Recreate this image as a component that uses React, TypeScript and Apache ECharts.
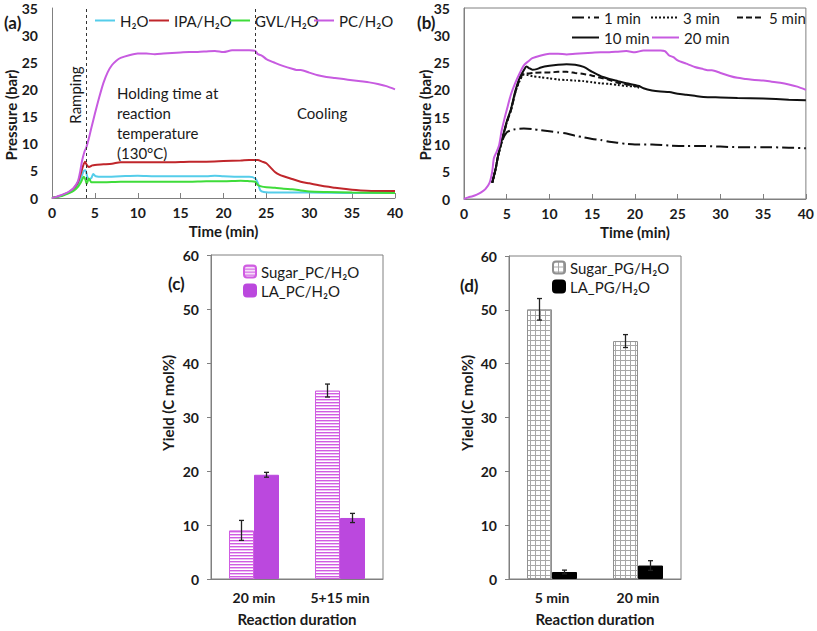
import React, { useEffect, useRef } from 'react';
import * as echarts from 'echarts';

// ---------------- DATA ----------------
// Panel (a): pressure (bar) vs time (min) for different solvents
const h2oA: number[][] = [[0,0],[0.5,0.2],[1,0.4],[1.5,0.7],[2,1.0],[2.5,1.5],[3,2.4],[3.4,3.8],[3.7,5.0],[3.9,5.1],[4.1,4.0],[4.3,3.4],[4.6,3.7],[4.8,4.4],[5.1,4.0],[6,3.9],[8,4.0],[10,4.1],[12,4.0],[14,4.0],[16,4.0],[18,4.0],[19,4.1],[20,4.0],[22,3.9],[23,3.9],[23.7,3.6],[24,2.8],[24.3,1.4],[24.7,1.1],[26,1.0],[30,1.0],[35,0.9],[40,0.9]];
const ipaA: number[][] = [[0,0],[0.5,0.2],[1,0.4],[1.5,0.7],[2,1.1],[2.5,1.7],[3,2.8],[3.3,4.2],[3.6,5.8],[3.85,6.7],[4.05,6.1],[4.3,5.7],[4.7,6.0],[5,6.1],[6,6.2],[7,6.3],[8,6.6],[9,6.6],[10,6.6],[12,6.6],[14,6.6],[16,6.7],[18,6.7],[20,6.8],[22,6.9],[23,7.0],[24,7.0],[24.5,6.7],[25,6.4],[25.5,5.6],[26,4.8],[26.5,4.3],[27,4.0],[28,3.5],[29,3.0],[30,2.7],[31,2.4],[32,2.1],[33,1.9],[34,1.7],[35,1.5],[36,1.4],[38,1.3],[40,1.3]];
const gvlA: number[][] = [[0,0],[0.5,0.15],[1,0.3],[1.5,0.6],[2,0.9],[2.5,1.3],[3,2.0],[3.4,3.0],[3.7,3.9],[3.9,3.4],[4.05,2.6],[4.3,3.6],[4.6,2.9],[5,2.9],[6,2.9],[8,3.0],[10,3.0],[12,3.0],[14,3.0],[16,3.0],[18,3.1],[20,3.1],[22,3.2],[23,3.1],[23.7,3.0],[24,2.4],[24.5,2.1],[25,2.0],[26,1.9],[27,1.7],[28,1.6],[29,1.4],[30,1.2],[32,1.1],[35,1.0],[40,0.9]];
const pcA: number[][] = [[0,0],[0.5,0.2],[1,0.5],[1.5,0.8],[2,1.2],[2.5,1.8],[3,3.0],[3.3,5.0],[3.5,6.8],[3.8,8.6],[4,9.3],[4.3,11.0],[4.6,13.0],[5,15.5],[5.5,18.5],[6,21.2],[6.5,23.2],[7,24.5],[7.5,25.3],[8,25.8],[9,26.3],[10,26.6],[11,26.6],[12,26.5],[13,26.6],[14,26.7],[15,26.8],[16,26.9],[17,26.9],[18,27.0],[19,27.1],[20,26.9],[21,27.2],[22,27.2],[23,27.2],[23.7,27.1],[24,26.5],[24.5,26.2],[25,25.6],[26,24.9],[27,24.3],[28,23.8],[28.5,23.6],[29,23.6],[30,23.1],[31,22.6],[32,22.3],[33,22.1],[34,21.9],[35,21.7],[36,21.5],[37,21.3],[38,21.0],[39,20.6],[40,20.0]];
const phaseBoundaries = [4, 23.7];

// Panel (b): pressure vs time for different holding times
const min1B: number[][] = [[3.3,3.0],[3.7,5.5],[4,8.0],[4.5,10.8],[5,12.2],[5.5,12.6],[6,12.8],[7,12.9],[8,12.8],[9,12.6],[10,12.4],[11,12.2],[12,12.0],[13,11.6],[14,11.3],[15,11.0],[16,10.8],[17,10.5],[18,10.3],[19,10.1],[20,10.0],[22,10.0],[24,9.8],[26,9.7],[28,9.7],[30,9.6],[32,9.5],[35,9.5],[38,9.4],[40,9.3]];
const min3B: number[][] = [[3.3,3.0],[3.7,5.5],[4,8.0],[4.5,11.0],[5,14.0],[5.5,16.3],[6,19.5],[6.5,21.6],[7,22.8],[7.5,22.7],[8,22.5],[9,22.3],[10,22.1],[11,21.9],[12,21.8],[13,21.7],[14,21.6],[15,21.4],[16,21.2],[17,21.1],[18,20.9],[19,20.7],[20,20.6],[20.5,20.4]];
const min5B: number[][] = [[3.3,3.0],[3.7,5.5],[4,8.0],[4.5,11.0],[5,14.0],[5.5,16.3],[6,19.5],[6.5,21.8],[7,23.0],[7.5,23.0],[8,23.1],[9,23.2],[10,23.2],[11,23.3],[12,23.3],[13,23.1],[14,22.9],[15,22.6],[16,22.2],[17,21.8],[18,21.3],[19,21.0],[20,20.7],[20.5,20.5]];
const min10B: number[][] = [[3.3,3.0],[3.7,5.5],[4,8.0],[4.5,11.2],[5,14.2],[5.5,16.5],[6,19.8],[6.5,22.2],[7,23.6],[7.3,24.3],[7.6,24.0],[8,23.7],[8.5,23.8],[9,24.1],[10,24.4],[11,24.6],[12,24.7],[13,24.6],[14,24.2],[15,23.3],[16,22.5],[17,22.0],[18,21.6],[19,21.2],[20,20.9],[20.5,20.7],[21,20.3],[22,19.9],[23,19.7],[24,19.6],[25,19.3],[26,19.1],[27,18.9],[28,18.7],[30,18.6],[32,18.5],[35,18.4],[38,18.2],[40,18.1]];
const min20B: number[][] = [[0,0],[0.5,0.3],[1,0.5],[1.5,0.8],[2,1.2],[2.5,1.8],[3,3.0],[3.3,5.0],[3.5,7.5],[3.8,8.6],[4.1,9.8],[4.4,12.5],[4.7,14.5],[5,16.3],[5.5,19.2],[6,21.3],[6.5,23.0],[7,24.5],[7.5,25.2],[8,25.8],[9,26.3],[10,26.6],[11,26.6],[12,26.5],[13,26.6],[14,26.7],[15,26.8],[16,26.9],[17,26.9],[18,27.0],[19,27.1],[20,26.9],[21,27.2],[22,27.2],[23,27.2],[23.5,27.1],[24,26.3],[24.5,26.0],[25,25.4],[26,24.8],[27,24.2],[28,23.8],[28.5,23.6],[29,23.6],[30,23.1],[31,22.6],[32,22.2],[33,22.0],[34,21.8],[35,21.7],[36,21.5],[37,21.3],[38,21.0],[39,20.6],[40,20.0]];

// Panel (c): yields, PC/H2O
const pcCategories = ['20 min', '5+15 min'];
const sugarPC = [9.0, 34.9];
const sugarPCErr = [1.85, 1.2];
const laPC = [19.3, 11.3];
const laPCErr = [0.45, 0.85];

// Panel (d): yields, PG/H2O
const pgCategories = ['5 min', '20 min'];
const sugarPG = [50.1, 44.2];
const sugarPGErr = [2.0, 1.2];
const laPG = [1.3, 2.5];
const laPGErr = [0.35, 0.9];

// ---------------- STYLE ----------------
const FONT = 'Lato, "Open Sans", sans-serif';
const TXT = '#1a1a1a';
const AXIS = '#808080';
const C_H2O = '#55cdea';
const C_IPA = '#c0262b';
const C_GVL = '#3fdc3a';
const C_PC = '#c75be0';
const C_LA_PC = '#bb48de';
const C_STRIPE = '#d05ce2';
const BAR_W = 25;

const svgUri = (s: string) => 'data:image/svg+xml;charset=utf-8,' + encodeURIComponent(s);
const stripePattern = {
  image: svgUri(`<svg xmlns='http://www.w3.org/2000/svg' width='4' height='3'><rect width='4' height='3' fill='#ffffff'/><rect width='4' height='1.4' fill='${C_STRIPE}'/></svg>`),
  repeat: 'repeat',
  imageWidth: 4,
  imageHeight: 3,
};
const gridPattern = {
  image: svgUri(`<svg xmlns='http://www.w3.org/2000/svg' width='5' height='5'><rect width='5' height='5' fill='#ffffff'/><rect width='5' height='1' fill='#a8a8a8'/><rect width='1' height='5' fill='#a8a8a8'/></svg>`),
  repeat: 'repeat',
  imageWidth: 5,
  imageHeight: 5,
};

const tickLabel = (margin: number) => ({ fontFamily: FONT, fontSize: 14, fontWeight: 'bold', color: TXT, margin });

function valueX(grid: number, showName: boolean) {
  return {
    type: 'value', gridIndex: grid, min: 0, max: 40, interval: 5,
    name: showName ? 'Time (min)' : '', nameLocation: 'middle', nameGap: 25,
    nameTextStyle: { fontFamily: FONT, fontSize: 15, fontWeight: 'bold', color: TXT },
    axisLine: { show: true, lineStyle: { color: AXIS, width: 1 } },
    axisTick: { show: true, inside: true, length: 5, lineStyle: { color: AXIS } },
    axisLabel: tickLabel(7),
    splitLine: { show: false },
  };
}
function pressureY(grid: number) {
  return {
    type: 'value', gridIndex: grid, min: 0, max: 35, interval: 5,
    axisLine: { show: true, lineStyle: { color: AXIS, width: 1 } },
    axisTick: { show: false },
    axisLabel: tickLabel(14),
    splitLine: { show: false },
  };
}
function catX(grid: number, cats: string[]) {
  return {
    type: 'category', gridIndex: grid, data: cats,
    name: 'Reaction duration', nameLocation: 'middle', nameGap: 32,
    nameTextStyle: { fontFamily: FONT, fontSize: 15, fontWeight: 'bold', color: TXT },
    axisLine: { show: true, lineStyle: { color: AXIS } },
    axisTick: { show: false },
    axisLabel: tickLabel(11),
  };
}
function yieldY(grid: number) {
  return {
    type: 'value', gridIndex: grid, min: 0, max: 60, interval: 10,
    axisLine: { show: true, lineStyle: { color: AXIS } },
    axisTick: { show: true, length: 4, lineStyle: { color: AXIS } },
    axisLabel: tickLabel(12),
    splitLine: { show: false },
  };
}

function lineSeries(name: string, data: number[][], grid: number, color: string, type: any = 'solid', extra: any = {}) {
  return {
    type: 'line', name, data, xAxisIndex: grid, yAxisIndex: grid,
    symbol: 'none', smooth: 0.25,
    lineStyle: { color, width: 2, type },
    itemStyle: { color },
    z: 3,
    ...extra,
  };
}

const errorBarRender = (offset: number) => (params: any, api: any) => {
  const i = api.value(0);
  const lo = api.coord([i, api.value(1)]);
  const hi = api.coord([i, api.value(2)]);
  const x = lo[0] + offset;
  const cap = 2.5;
  const style = { stroke: '#222', lineWidth: 1.3 };
  return {
    type: 'group',
    children: [
      { type: 'line', shape: { x1: x, y1: hi[1], x2: x, y2: lo[1] }, style },
      { type: 'line', shape: { x1: x - cap, y1: hi[1], x2: x + cap, y2: hi[1] }, style },
      { type: 'line', shape: { x1: x - cap, y1: lo[1], x2: x + cap, y2: lo[1] }, style },
    ],
  };
};
function errorSeries(vals: number[], errs: number[], grid: number, offset: number) {
  return {
    type: 'custom', xAxisIndex: grid, yAxisIndex: grid, z: 10, silent: true,
    encode: { x: 0, y: [1, 2] },
    data: vals.map((v, i) => [i, v - errs[i], v + errs[i]]),
    renderItem: errorBarRender(offset),
  };
}

const legendText = { fontFamily: FONT, fontSize: 15, color: TXT };
function legendAt(name: string, left: number, top: number, w: number, h: number, isLine: boolean) {
  const l: any = {
    data: [name], left, top, padding: 0, itemWidth: w, itemHeight: h, itemGap: 0,
    selectedMode: false, textStyle: legendText,
  };
  if (isLine) l.itemStyle = { opacity: 0, borderWidth: 0 };
  return l;
}

function rotText(text: string, x: number, y: number, bold = true) {
  return {
    type: 'text', x, y, rotation: Math.PI / 2,
    style: { text, fontFamily: FONT, fontSize: 15, fontWeight: bold ? 'bold' : 'normal', fill: TXT, align: 'center', verticalAlign: 'middle' },
  };
}
function panelLabel(text: string, x: number, y: number) {
  return {
    type: 'text', x, y,
    style: { text, fontFamily: FONT, fontSize: 17, fontWeight: 'bold', fill: TXT, align: 'left', verticalAlign: 'middle' },
  };
}

const option: any = {
  animation: false,
  backgroundColor: '#ffffff',
  textStyle: { fontFamily: FONT },
  grid: [
    { left: 52, top: 8, width: 343, height: 190 },
    { left: 464, top: 8, width: 344, height: 191, show: true, borderColor: AXIS, borderWidth: 1, backgroundColor: 'transparent' },
    { left: 211, top: 255, width: 172, height: 326, show: true, borderColor: AXIS, borderWidth: 1, backgroundColor: 'transparent' },
    { left: 509, top: 256, width: 172, height: 325, show: true, borderColor: AXIS, borderWidth: 1, backgroundColor: 'transparent' },
  ],
  xAxis: [valueX(0, true), valueX(1, true), catX(2, pcCategories), catX(3, pgCategories)],
  yAxis: [pressureY(0), pressureY(1), yieldY(2), yieldY(3)],
  legend: [
    legendAt('H₂O', 94, 13, 20, 14, true),
    legendAt('IPA/H₂O', 148, 13, 20, 14, true),
    legendAt('GVL/H₂O', 229, 13, 20, 14, true),
    legendAt('PC/H₂O', 313, 13, 20, 14, true),
    legendAt('1 min', 571, 10, 27, 14, true),
    legendAt('3 min', 650, 10, 27, 14, true),
    legendAt('5 min', 736, 10, 27, 14, true),
    legendAt('10 min', 571, 30, 27, 14, true),
    legendAt('20 min', 651, 30, 27, 14, true),
    legendAt('Sugar_PC/H₂O', 243, 264, 12, 12, false),
    legendAt('LA_PC/H₂O', 243, 283, 12, 12, false),
    legendAt('Sugar_PG/H₂O', 552, 260, 12, 12, false),
    legendAt('LA_PG/H₂O', 552, 279, 12, 12, false),
  ],
  series: [
    lineSeries('H₂O', h2oA, 0, C_H2O),
    lineSeries('IPA/H₂O', ipaA, 0, C_IPA, 'solid', {
      markLine: {
        silent: true, symbol: 'none', label: { show: false },
        lineStyle: { color: '#333', width: 1, type: [3, 3] },
        data: phaseBoundaries.map((t) => ({ xAxis: t })),
      },
    }),
    lineSeries('GVL/H₂O', gvlA, 0, C_GVL),
    lineSeries('PC/H₂O', pcA, 0, C_PC),

    lineSeries('1 min', min1B, 1, '#111', [12, 4, 2, 4]),
    lineSeries('3 min', min3B, 1, '#111', [2, 2]),
    lineSeries('5 min', min5B, 1, '#111', [6, 3]),
    lineSeries('10 min', min10B, 1, '#111'),
    lineSeries('20 min', min20B, 1, C_PC),

    {
      type: 'bar', name: 'Sugar_PC/H₂O', data: sugarPC, xAxisIndex: 2, yAxisIndex: 2,
      barWidth: BAR_W, barGap: '0%',
      itemStyle: { color: stripePattern, borderColor: C_STRIPE, borderWidth: 1 },
    },
    {
      type: 'bar', name: 'LA_PC/H₂O', data: laPC, xAxisIndex: 2, yAxisIndex: 2,
      barWidth: BAR_W, barGap: '0%',
      itemStyle: { color: C_LA_PC, borderColor: C_LA_PC, borderWidth: 1 },
    },
    errorSeries(sugarPC, sugarPCErr, 2, -BAR_W / 2),
    errorSeries(laPC, laPCErr, 2, BAR_W / 2),

    {
      type: 'bar', name: 'Sugar_PG/H₂O', data: sugarPG, xAxisIndex: 3, yAxisIndex: 3,
      barWidth: BAR_W, barGap: '0%',
      itemStyle: { color: gridPattern, borderColor: '#909090', borderWidth: 1 },
    },
    {
      type: 'bar', name: 'LA_PG/H₂O', data: laPG, xAxisIndex: 3, yAxisIndex: 3,
      barWidth: BAR_W, barGap: '0%',
      itemStyle: { color: '#000000', borderColor: '#000000', borderWidth: 1 },
    },
    errorSeries(sugarPG, sugarPGErr, 3, -BAR_W / 2),
    errorSeries(laPG, laPGErr, 3, BAR_W / 2),
  ],
  graphic: [
    panelLabel('(a)', 4, 22),
    panelLabel('(b)', 417, 22),
    panelLabel('(c)', 168, 283),
    panelLabel('(d)', 460, 285),
    rotText('Pressure (bar)', 11, 115),
    rotText('Pressure (bar)', 425, 115),
    rotText('Yield (C mol%)', 168, 403),
    rotText('Yield (C mol%)', 467, 403),
    rotText('Ramping', 75, 95, false),
    {
      type: 'text', x: 117, y: 83,
      style: { text: 'Holding time at\nreaction\ntemperature\n(130°C)', fontFamily: FONT, fontSize: 15, lineHeight: 20, fill: TXT, align: 'left', verticalAlign: 'top' },
    },
    {
      type: 'text', x: 297, y: 113,
      style: { text: 'Cooling', fontFamily: FONT, fontSize: 15, fill: TXT, align: 'left', verticalAlign: 'middle' },
    },
  ],
};

export default function App() {
  const ref = useRef<HTMLDivElement>(null);
  useEffect(() => {
    const chart = echarts.init(ref.current as HTMLDivElement, null, { renderer: 'svg' });
    chart.setOption(option);
    return () => chart.dispose();
  }, []);
  return (
    <div
      ref={ref}
      style={{ position: 'fixed', left: 0, top: 0, width: 817, height: 631, background: '#ffffff' }}
    />
  );
}
